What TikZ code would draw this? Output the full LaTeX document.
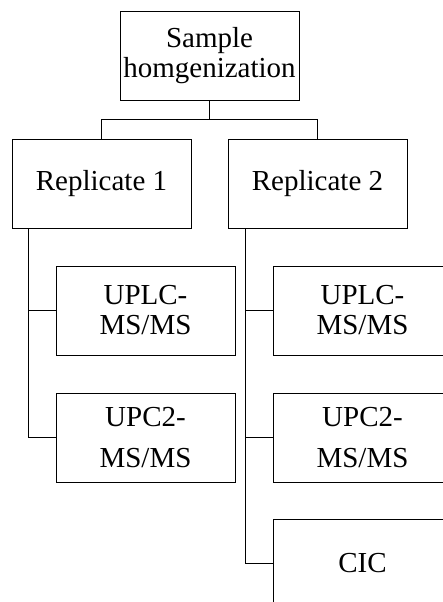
\documentclass[tikz,border=0pt]{standalone}
\usepackage{fontspec}
\setmainfont{Liberation Serif}
\usetikzlibrary{positioning}

\begin{document}
\begin{tikzpicture}[x=1pt,y=-1pt,
  box/.style={draw, line width=1pt, minimum width=179pt, minimum height=89pt, inner sep=0pt, align=center, font=\fontsize{29}{30}\selectfont},
  link/.style={line width=1pt}]
\clip (0,0) rectangle (443,602);
% boxes
\node[box] (hom) at (209.5,56) {Sample\\homgenization};
\node[box] (rep1) at (101.5,183.5) {Replicate 1};
\node[box] (rep2) at (317.5,183.5) {Replicate 2};
\node[box] (uplc1) at (145.5,310.5) {UPLC-\\MS/MS};
\node[box] (upc1) at (145.5,437.5) {UPC2-\\[11pt]MS/MS};
\node[box] (uplc2) at (362.5,310.5) {UPLC-\\MS/MS};
\node[box] (upc2) at (362.5,437.5) {UPC2-\\[11pt]MS/MS};
\node[box] (cic) at (362.5,563.5) {CIC};
% links
\draw[link] (hom.south) -- ++(0,18) coordinate (split);
\draw[link] (split) -| (rep1.north);
\draw[link] (split) -| (rep2.north);
\draw[link] ([xshift=17pt]rep1.south west) |- (uplc1.west);
\draw[link] ([xshift=17pt]rep1.south west) |- (upc1.west);
\foreach \n in {uplc2,upc2,cic}
  \draw[link] ([xshift=18pt]rep2.south west) |- (\n.west);
\end{tikzpicture}
\end{document}
